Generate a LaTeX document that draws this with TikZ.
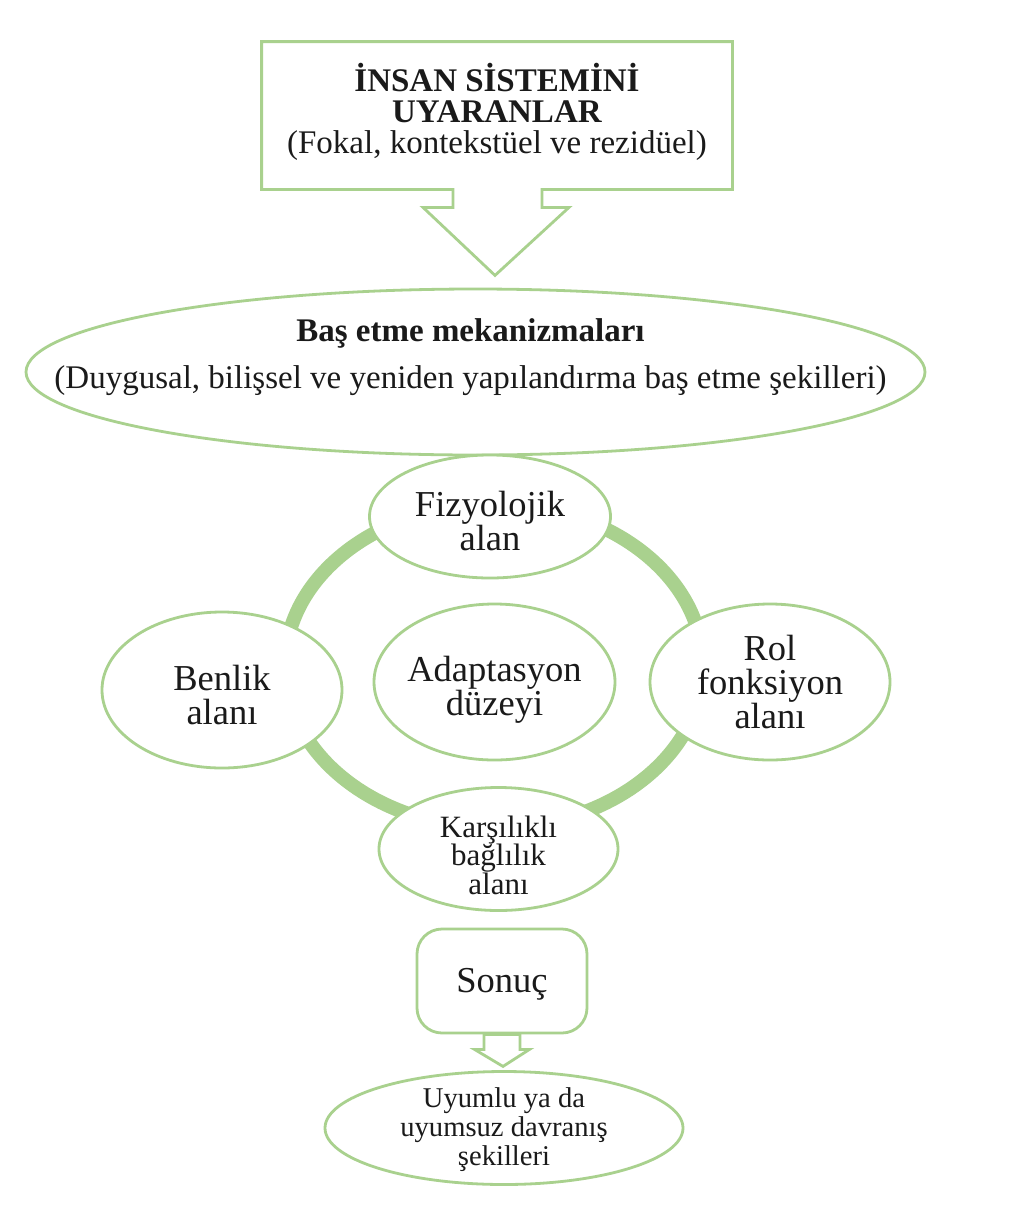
\documentclass[tikz,border=0pt]{standalone}
\usepackage{fontspec}
\setmainfont{Liberation Serif}
\usetikzlibrary{shapes.geometric,calc}
\definecolor{lgreen}{HTML}{A9D18E}
\definecolor{ink}{HTML}{1A1A1A}
\begin{document}
\begin{tikzpicture}[x=0.5pt,y=-0.5pt,
  outline/.style={draw=lgreen, line width=1.4pt, line join=miter},
  area/.style={outline, ellipse, fill=white, inner sep=0pt},
  lbl/.style={inner sep=0pt, align=center, text=ink},
  bigfont/.style={font=\fontsize{18.25pt}{17pt}\selectfont},
  midfont/.style={font=\fontsize{16.5pt}{15.5pt}\selectfont},
  smallfont/.style={font=\fontsize{15.5pt}{14.25pt}\selectfont},
  tinyfont/.style={font=\fontsize{14.3pt}{14.5pt}\selectfont}]
\useasboundingbox[fill=white] (0,0) rectangle (1017,1227);

% top callout box
\node[inner sep=0pt, minimum width=235pt, minimum height=73.5pt] (top) at (497,115.5) {};
\node[lbl, midfont] (toptext) at ($(top)+(0,-4)$)
  {\textbf{İNSAN SİSTEMİNİ}\\\textbf{UYARANLAR}\\(Fokal, kontekstüel ve rezidüel)};
\coordinate (toptip) at ($(top.south)+(-2,86)$);
\draw[outline] ($(top.south)+(-44,0)$) -- (top.south west) -- (top.north west) -- (top.north east)
  -- (top.south east) -- ($(top.south)+(45,0)$) -- ++(0,18) -- ++(27,0) -- (toptip)
  -- ($(top.south)+(-74,18)$) -- ++(30,0) -- cycle;

% coping ellipse
\node[area, minimum width=449.5pt, minimum height=83pt] (cope) at (475.5,372) {};
\node[lbl, font=\fontsize{16.5pt}{23.5pt}\selectfont] (copetext) at ($(cope)+(-5,-15)$)
  {\textbf{Baş etme mekanizmaları}\\(Duygusal, bilişsel ve yeniden yapılandırma baş etme şekilleri)};

% ring
\draw[draw=lgreen, line width=7pt] (494,666) ellipse [x radius=209, y radius=162];

% mode nodes
\node[area, minimum width=120.5pt, minimum height=61.5pt] (fiz) at (490,516.5) {};
\node[lbl, bigfont] (fiztext) at ($(fiz)+(0,5)$) {Fizyolojik\\alan};
\node[area, minimum width=120pt, minimum height=78pt] (benlik) at (222,690) {};
\node[lbl, bigfont] (benliktext) at ($(benlik)+(0,5)$) {Benlik\\alanı};
\node[area, minimum width=120.5pt, minimum height=78pt] (adapt) at (494.5,682) {};
\node[lbl, bigfont] (adapttext) at ($(adapt)+(0,8)$) {Adaptasyon\\düzeyi};
\node[area, minimum width=120pt, minimum height=78pt] (rol) at (770,682) {};
\node[lbl, bigfont] (roltext) at (rol) {Rol\\fonksiyon\\alanı};
\node[area, minimum width=119.5pt, minimum height=61.5pt] (kars) at (498.5,849) {};
\node[lbl, smallfont] (karstext) at ($(kars)+(0,6)$) {Karşılıklı\\bağlılık\\alanı};

% result
\node[outline, rounded corners=12.5pt, inner sep=0pt, minimum width=85pt, minimum height=52pt] (sonuc) at (502,981) {};
\node[lbl, bigfont] (sonuctext) at ($(sonuc)+(0,3)$) {Sonuç};
\coordinate (sontip) at ($(sonuc.south)+(1,32)$);
\draw[outline] ($(sonuc.south)+(-18,0)$) -- ++(0,15) -- ++(-9.5,0) -- (sontip)
  -- ($(sonuc.south)+(27.5,15)$) -- ++(-9.5,0) -- ($(sonuc.south)+(18,0)$) -- cycle;

\node[area, minimum width=179pt, minimum height=56.5pt] (beh) at (504,1128) {};
\node[lbl, tinyfont] (behtext) at ($(beh)+(0,2)$) {Uyumlu ya da\\uyumsuz davranış\\şekilleri};
\end{tikzpicture}
\end{document}
